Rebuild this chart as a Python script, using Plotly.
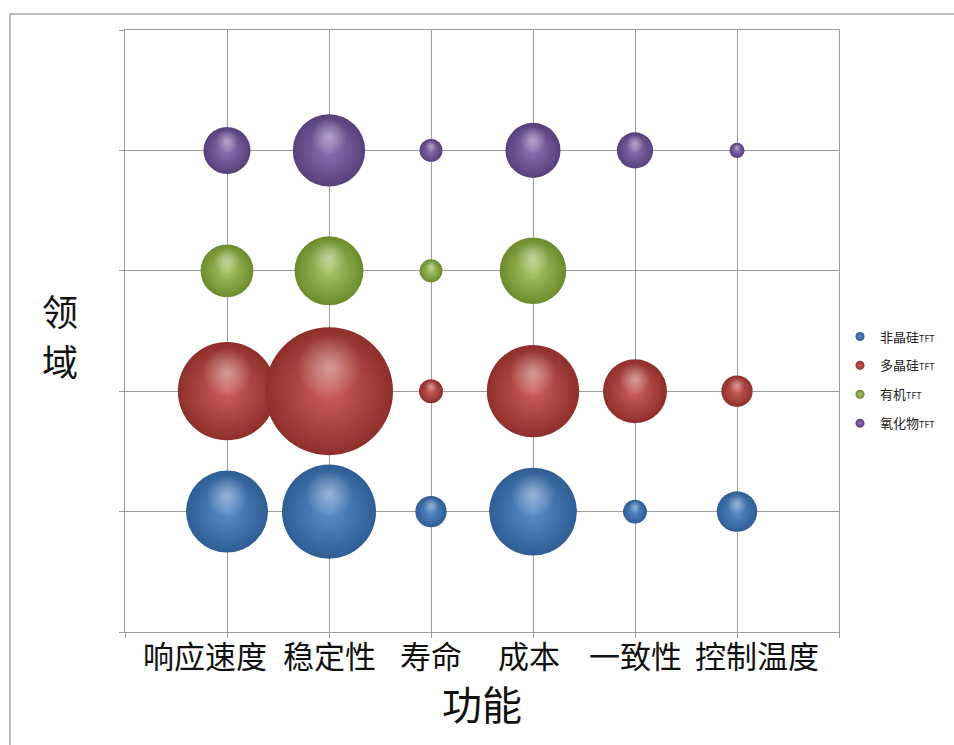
import math
import plotly.graph_objects as go

# ---- data -------------------------------------------------------------
categories = ["响应速度", "稳定性", "寿命", "成本", "一致性", "控制温度"]
series_names = ["非晶硅", "多晶硅", "有机", "氧化物"]
series_levels = [1, 2, 3, 4]

amorphous_si = [41, 54, 6, 47, 3.5, 10]
poly_si = [59, 100, 3.5, 52, 25, 6]
organic = [17, 29, 3.2, 27, None, None]
oxide = [13.5, 32, 3.2, 18.5, 8, 1.4]

series_values = [amorphous_si, poly_si, organic, oxide]

# ---- styling ----------------------------------------------------------
W, H = 954, 745
M_L, M_R, M_T, M_B = 125, 115, 30, 113
PLOT_H = H - M_T - M_B
Y_MAX = 5
PX_PER_Y = PLOT_H / Y_MAX

MAX_DIAM = 128
V_MAX = max(max(v for v in s if v is not None) for s in series_values)
SIZEREF = 2.0 * V_MAX / MAX_DIAM ** 2


def diameter(v):
    # pixel diameter plotly draws for an area-mode bubble
    return math.sqrt(2.0 * v / SIZEREF)


edge_colors = ["#2f5d94", "#8e2f2c", "#6b8b2d", "#56407a"]
mid_colors = ["#5b8dcb", "#cc5f5b", "#a8c867", "#8d72b3"]
label_shift = [-22, 0, 0, -4, 0, 20]

FONT = "Noto Sans CJK SC"
GRID = "#9d9d9d"

fig = go.Figure()

xs = list(range(1, len(categories) + 1))

for name, level, vals, edge, mid in zip(series_names, series_levels, series_values,
                                        edge_colors, mid_colors):
    px_, py_, pv_ = [], [], []
    for x, v in zip(xs, vals):
        if v is None:
            continue
        px_.append(x)
        py_.append(level)
        pv_.append(v)

    # sphere body
    fig.add_trace(go.Scatter(
        x=px_, y=py_, mode="markers", showlegend=False, hoverinfo="skip",
        marker=dict(size=pv_, sizemode="area", sizeref=SIZEREF, sizemin=1,
                    color=edge, gradient=dict(type="radial", color=mid),
                    line=dict(width=0), opacity=1),
    ))

    # specular highlight, a little above the sphere centre
    hx, hy, hs = [], [], []
    for x, y, v in zip(px_, py_, pv_):
        d = diameter(v)
        hx.append(x)
        hy.append(y + 0.38 * (d / 2) / PX_PER_Y)
        hs.append(0.5 * d)
    fig.add_trace(go.Scatter(
        x=hx, y=hy, mode="markers", showlegend=False, hoverinfo="skip",
        marker=dict(size=hs, sizemode="diameter", color="rgba(255,255,255,0)",
                    gradient=dict(type="radial", color="rgba(255,255,255,0.62)"),
                    line=dict(width=0)),
    ))

    # legend entry
    fig.add_trace(go.Scatter(
        x=[None], y=[None], mode="markers", legendgroup=name,
        name=f"{name}<span style='font-size:9px'>TFT</span>",
        marker=dict(size=9, color=edge, gradient=dict(type="radial", color=mid),
                    line=dict(width=0)),
    ))

# category labels under the axis
annotations = []
for x, lab, sh in zip(xs, categories, label_shift):
    annotations.append(dict(
        x=x, xref="x", y=-0.037, yref="paper", text=lab, showarrow=False,
        xanchor="center", yanchor="middle", xshift=sh,
        font=dict(family=FONT, size=31, color="#111111"),
    ))

annotations.append(dict(
    x=0.5, xref="paper", y=-0.118, yref="paper", text="功能", showarrow=False,
    xanchor="center", yanchor="middle", font=dict(family=FONT, size=40, color="#111111"),
))
# vertical axis title, one character per line
for ch, yy in zip("领域", [0.535, 0.452]):
    annotations.append(dict(
        x=-0.091, xref="paper", y=yy, yref="paper", text=ch, showarrow=False,
        xanchor="center", yanchor="middle", font=dict(family=FONT, size=36, color="#111111"),
    ))

# outer chart border
shapes = [dict(
    type="rect", xref="paper", yref="paper",
    x0=(10 - M_L) / (W - M_L - M_R), x1=1.25,
    y0=-0.3, y1=(PLOT_H + M_T - 14) / PLOT_H,
    line=dict(color="#a8a8a8", width=1.5), fillcolor="rgba(0,0,0,0)", layer="below",
)]

fig.update_layout(
    width=W, height=H,
    margin=dict(l=M_L, r=M_R, t=M_T, b=M_B, autoexpand=False),
    paper_bgcolor="white", plot_bgcolor="white",
    font=dict(family=FONT, color="#222222"),
    showlegend=True,
    legend=dict(
        xref="container", x=840 / W, xanchor="left",
        yref="container", y=(H - 380) / H, yanchor="middle",
        font=dict(family=FONT, size=13, color="#222222"),
        tracegroupgap=9, itemsizing="trace", bgcolor="rgba(0,0,0,0)",
    ),
    annotations=annotations,
    shapes=shapes,
    xaxis=dict(
        range=[0, len(categories) + 1], tickmode="linear", tick0=0, dtick=1,
        showticklabels=False, ticks="outside", ticklen=5, tickcolor=GRID,
        showgrid=True, gridcolor=GRID, gridwidth=1, zeroline=False,
        showline=True, linecolor=GRID, linewidth=1, mirror=True, fixedrange=True,
    ),
    yaxis=dict(
        range=[0, Y_MAX], tickmode="linear", tick0=0, dtick=1,
        showticklabels=False, ticks="outside", ticklen=5, tickcolor=GRID,
        showgrid=True, gridcolor=GRID, gridwidth=1, zeroline=False,
        showline=True, linecolor=GRID, linewidth=1, mirror=True, fixedrange=True,
    ),
)

fig.write_html("out.html")
